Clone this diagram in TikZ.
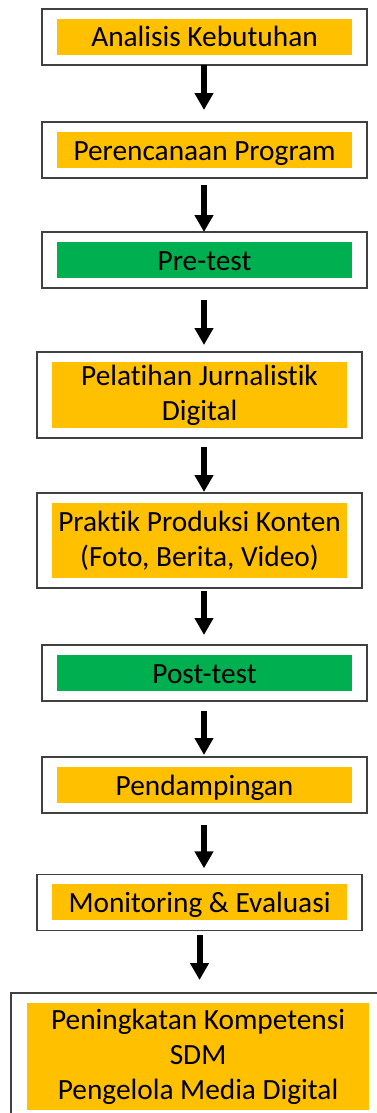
\documentclass[tikz,border=0pt]{standalone}
\usepackage{fontspec}
\setmainfont{Carlito}[Ligatures=NoCommon]
\usetikzlibrary{positioning,fit,calc,arrows.meta}
\definecolor{amber}{HTML}{FFC000}
\definecolor{leaf}{HTML}{00B050}
\tikzset{stage/.style={inner sep=0pt, outer sep=0pt, minimum width=221.25pt, text width=221.25pt, align=flush center, font=\fontsize{22}{26.25}\selectfont}}
\tikzset{stage1/.style={stage, minimum height=27pt, text height=16pt, text depth=1pt}}
\tikzset{frame/.style={draw=black!75, line width=1.1pt, inner xsep=11.25pt, inner ysep=7.5pt, outer sep=0pt}}
\tikzset{arr/.style={draw, line width=4.5pt, -{Triangle[width=13.5pt,length=12.75pt]}}}

\begin{document}
\begin{tikzpicture}
	\useasboundingbox (0,0) rectangle (282.75pt,-834.75pt);
	\coordinate (axis) at (153pt,0);
	% steps
	\node[stage1, fill=amber] (s1) at (153.4pt,-27.75pt) {Analisis Kebutuhan};
	\node[stage1, fill=amber, below=57.75pt of s1] (s2) {Perencanaan Program};
	\node[stage1, fill=leaf, below=55.5pt of s2] (s3) {Pre-test};
	\node[stage, fill=amber, minimum height=49.5pt, below=63pt of s3, xshift=-3.75pt] (s4)
		{Pelatihan Jurnalistik\\Digital};
	\node[stage, fill=amber, minimum height=56.25pt, below=56.25pt of s4] (s5)
		{Praktik Produksi Konten\\(Foto, Berita, Video)};
	\node[stage1, fill=leaf, below=57.75pt of s5, xshift=3.75pt] (s6) {Post-test};
	\node[stage1, fill=amber, below=57pt of s6] (s7) {Pendampingan};
	\node[stage1, fill=amber, below=61pt of s7, xshift=-3.75pt] (s8) {Monitoring \& Evaluasi};
	\node[stage, fill=amber, minimum width=256.5pt, text width=256.5pt, minimum height=80.25pt,
		below=62pt of s8, xshift=-1.1pt] (s9)
		{Peningkatan Kompetensi\\SDM\\Pengelola Media Digital};
	% frames
	\node[frame, fit=(s1)] (f1) {};
	\node[frame, fit=(s2)] (f2) {};
	\node[frame, fit=(s3)] (f3) {};
	\node[frame, fit=(s4)] (f4) {};
	\node[frame, fit=(s5)] (f5) {};
	\node[frame, fit=(s6)] (f6) {};
	\node[frame, fit=(s7)] (f7) {};
	\node[frame, fit=(s8)] (f8) {};
	\node[frame, fit=(s9), inner xsep=12pt] (f9) {};
	% arrows
	\draw[arr, shorten >=9pt] (f1.south -| axis) -- (f2.north -| axis);
	\draw[arr, shorten <=5.25pt] (f2.south -| axis) -- (f3.north -| axis);
	\draw[arr, shorten <=9pt, shorten >=5.25pt] (f3.south -| axis) -- (f4.north -| axis);
	\draw[arr, shorten <=6.75pt, shorten >=0.75pt] (f4.south -| axis) -- (f5.north -| axis);
	\draw[arr, shorten <=2.25pt, shorten >=7.5pt] (f5.south -| axis) -- (f6.north -| axis);
	\draw[arr, shorten <=7.5pt, shorten >=1.5pt] (f6.south -| axis) -- (f7.north -| axis);
	\draw[arr, shorten <=9pt, shorten >=4.5pt] (f7.south -| axis) -- (f8.north -| axis);
	\draw[arr, shorten <=3.75pt, shorten >=9.75pt] (f8.south) -- (f8.south |- f9.north);
\end{tikzpicture}
\end{document}
